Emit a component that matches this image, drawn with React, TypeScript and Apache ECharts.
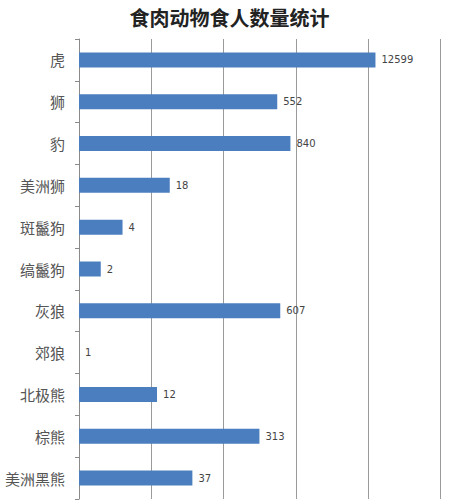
import React, { useEffect, useRef } from "react";
import * as echarts from "echarts";

const title = "食肉动物食人数量统计";
const categories = ["虎", "狮", "豹", "美洲狮", "斑鬣狗", "缟鬣狗", "灰狼", "郊狼", "北极熊", "棕熊", "美洲黑熊"];
const values = [12599, 552, 840, 18, 4, 2, 607, 1, 12, 313, 37];

export default function App() {
  const ref = useRef<HTMLDivElement>(null);
  useEffect(() => {
    const chart = echarts.init(ref.current!, null, { renderer: "svg" });
    chart.setOption({
      animation: false,
      backgroundColor: "#ffffff",
      title: {
        text: title,
        left: "center",
        top: 2,
        textStyle: {
          fontSize: 20,
          fontWeight: "bold",
          color: "#222",
          fontFamily: "Noto Sans CJK SC",
        },
      },
      grid: { left: 79, right: 18.5, top: 39, bottom: 1, containLabel: false },
      xAxis: {
        type: "log",
        logBase: 10,
        min: 1,
        max: 100000,
        axisLine: { show: false },
        axisTick: { show: false },
        axisLabel: { show: false },
        splitLine: { show: true, lineStyle: { color: "#9a9a9a", width: 1 } },
      },
      yAxis: {
        type: "category",
        data: categories,
        inverse: true,
        axisLine: { show: true, lineStyle: { color: "#8a8a8a", width: 1 } },
        axisTick: { show: true, length: 4, lineStyle: { color: "#8a8a8a" } },
        axisLabel: {
          margin: 14,
          fontSize: 15,
          color: "#555",
          fontFamily: "Noto Sans CJK SC",
        },
        splitLine: { show: false },
      },
      series: [
        {
          type: "bar",
          data: values,
          barWidth: 15,
          itemStyle: { color: "#4a7ebe", borderWidth: 0 },
          label: {
            show: true,
            position: "right",
            distance: 6,
            fontSize: 10,
            color: "#444",
            fontFamily: "DejaVu Sans",
          },
        },
      ],
    });
    return () => chart.dispose();
  }, []);
  return (
    <div
      ref={ref}
      style={{ position: "fixed", left: 0, top: 0, width: 459, height: 500 }}
    />
  );
}
